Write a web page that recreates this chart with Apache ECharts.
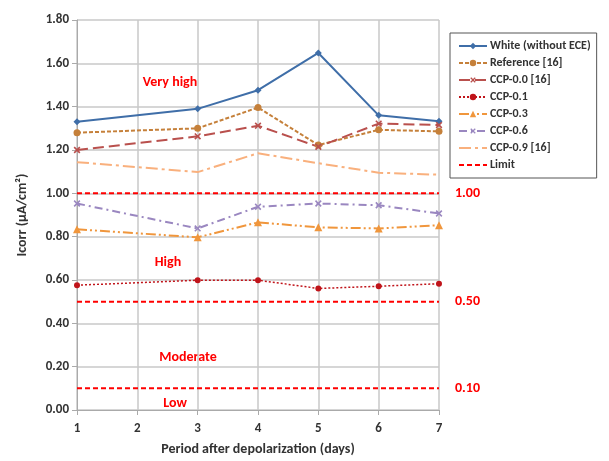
<!DOCTYPE html>
<html><head><meta charset="utf-8">
<script src="https://cdn.jsdelivr.net/npm/echarts@6/dist/echarts.min.js"></script>
<style>html,body{margin:0;padding:0;background:#fff}#c{width:609px;height:461px}</style>
</head><body><div id="c"></div>
<script>
const days = [1, 3, 4, 5, 6, 7];
const white = [1.33, 1.39, 1.476, 1.648, 1.36, 1.333];
const reference = [1.28, 1.30, 1.396, 1.223, 1.293, 1.286];
const ccp00 = [1.20, 1.263, 1.312, 1.215, 1.322, 1.315];
const ccp01 = [0.576, 0.599, 0.599, 0.561, 0.571, 0.583];
const ccp03 = [0.834, 0.797, 0.866, 0.843, 0.838, 0.853];
const ccp06 = [0.953, 0.838, 0.938, 0.953, 0.945, 0.907];
const ccp09 = [1.144, 1.098, 1.185, 1.139, 1.095, 1.086];
const limits = [1.00, 0.50, 0.10];
const limitLabels = ['1.00', '0.50', '0.10'];
const xRange = [1, 7];

const pair = arr => days.map((d, i) => [d, arr[i]]);
const xMark = 'path://M4,0H6V4H10V6H6V10H4V6H0V4H4Z';
const font = 'Calibri, Carlito, "Open Sans", "Liberation Sans", sans-serif';

function line(name, data, color, type, width, symbol, size, rotate) {
  return {
    name, type: 'line', data: pair(data), color,
    lineStyle: {color, type, width},
    itemStyle: {color},
    symbol: symbol || 'none', symbolSize: size || 6, symbolRotate: rotate || 0,
    showSymbol: !!symbol, animation: false, z: 3
  };
}

const series = [
  line('White (without ECE)', white, '#3f6ea8', 'solid', 2, 'diamond', 7),
  line('Reference [16]', reference, '#c5803a', [4, 2], 2, 'circle', 7),
  line('CCP-0.0 [16]', ccp00, '#b9504d', [11, 5], 2, xMark, 8, 45),
  line('CCP-0.1', ccp01, '#c0141a', [2, 2], 1.5, 'circle', 6),
  line('CCP-0.3', ccp03, '#f0963c', [10, 3, 2, 3, 2, 3], 2, 'triangle', 8),
  line('CCP-0.6', ccp06, '#9a87c0', [8, 4, 2, 4], 2, xMark, 8, 45),
  line('CCP-0.9 [16]', ccp09, '#f9b07d', [12, 4, 3, 4], 2, null)
];
limits.forEach((v, i) => {
  series.push({
    name: 'Limit', type: 'line', data: [[xRange[0], v], [xRange[1], v]],
    color: '#ff0000', lineStyle: {color: '#ff0000', type: [5, 3], width: 2},
    symbol: 'none', showSymbol: false, animation: false, z: 2,
    endLabel: {show: true, formatter: limitLabels[i], color: '#ff0000',
      fontWeight: 'bold', fontSize: 14, fontFamily: font, distance: 16}
  });
});

const zoneText = [
  {text: 'Very high', x: 170, y: 82},
  {text: 'High', x: 168, y: 262},
  {text: 'Moderate', x: 188, y: 357},
  {text: 'Low', x: 175, y: 403}
];

const legendNames = ['White (without ECE)', 'Reference [16]', 'CCP-0.0 [16]', 'CCP-0.1', 'CCP-0.3', 'CCP-0.6', 'CCP-0.9 [16]', 'Limit'];
const noSymbol = ['CCP-0.9 [16]', 'Limit'];

const chart = echarts.init(document.getElementById('c'));
chart.setOption({
  animation: false,
  grid: {left: 77, right: 170, top: 20, bottom: 48},
  xAxis: {
    type: 'value', min: 1, max: 7, interval: 1,
    name: 'Period after depolarization (days)', nameLocation: 'middle', nameGap: 32,
    nameTextStyle: {fontWeight: 'bold', fontSize: 14, color: '#333', fontFamily: font},
    axisLine: {lineStyle: {color: '#aaa'}},
    axisTick: {show: true, lineStyle: {color: '#aaa'}},
    axisLabel: {fontWeight: 'bold', fontSize: 13, color: '#333', margin: 12, fontFamily: font},
    splitLine: {show: true, lineStyle: {color: '#c8c8c8', width: 1.5}}
  },
  yAxis: {
    type: 'value', min: 0, max: 1.8, interval: 0.2,
    name: 'Icorr (µA/cm²)', nameLocation: 'middle', nameGap: 48,
    nameTextStyle: {fontWeight: 'bold', fontSize: 14, color: '#333', fontFamily: font},
    axisLine: {show: true, lineStyle: {color: '#aaa'}},
    axisTick: {show: true, lineStyle: {color: '#aaa'}},
    axisLabel: {fontWeight: 'bold', fontSize: 13, color: '#333', formatter: v => v.toFixed(2), fontFamily: font},
    splitLine: {show: true, lineStyle: {color: '#c8c8c8', width: 1.5}}
  },
  legend: {
    orient: 'vertical', left: 450, top: 33, width: 150,
    data: legendNames.map(n => noSymbol.includes(n) ? {name: n, itemStyle: {opacity: 0}} : {name: n}),
    itemWidth: 28, itemHeight: 8, itemGap: 5,
    padding: [7, 6, 7, 8],
    borderColor: '#555', borderWidth: 1,
    textStyle: {fontWeight: 'bold', fontSize: 12, color: '#333', fontFamily: font, padding: [0, 0, 0, -2]}
  },
  graphic: zoneText.map(t => ({
    type: 'text', x: t.x, y: t.y,
    style: {text: t.text, fill: '#ff0000', font: 'bold 14px ' + font, textAlign: 'center', textVerticalAlign: 'middle'}
  })),
  series
});
</script></body></html>
